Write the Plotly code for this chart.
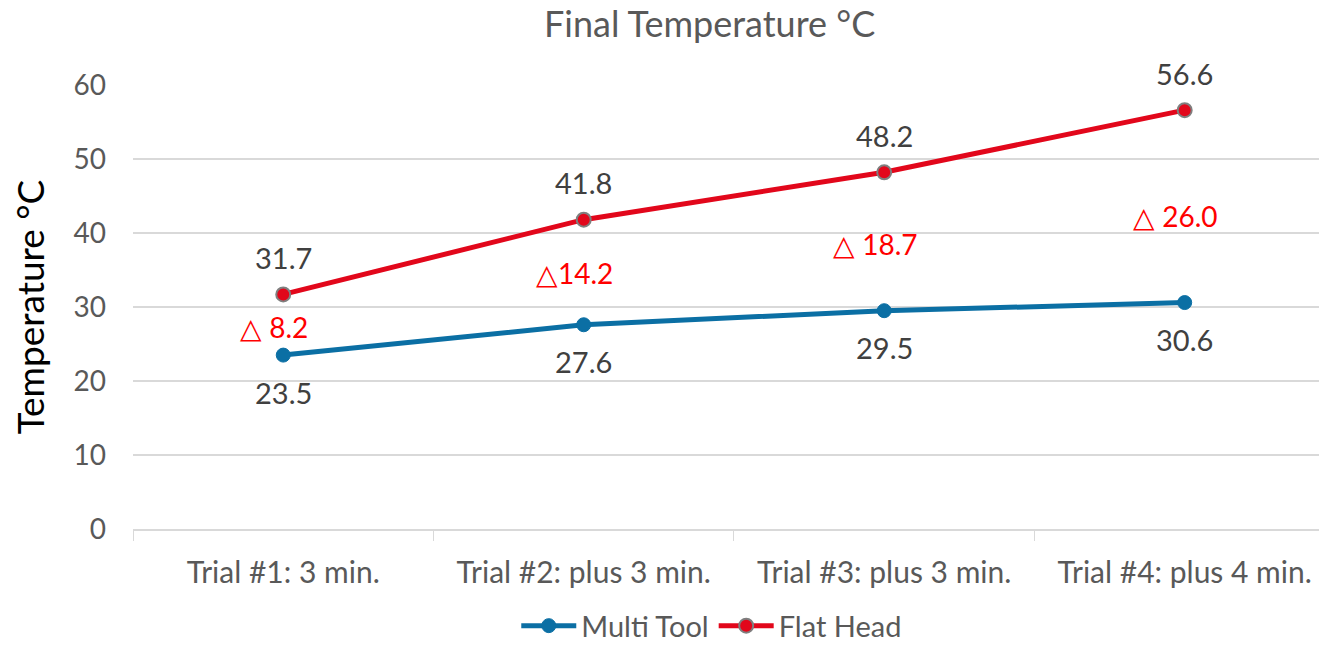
import plotly.graph_objects as go

categories = ["Trial #1: 3 min.", "Trial #2: plus 3 min.", "Trial #3: plus 3 min.", "Trial #4: plus 4 min."]
multi_tool = [23.5, 27.6, 29.5, 30.6]
flat_head = [31.7, 41.8, 48.2, 56.6]
delta_values = [8.2, 14.2, 18.7, 26.0]
delta_label_y = [27.3, 34.6, 38.5, 42.3]
y_ticks = [0, 10, 20, 30, 40, 50, 60]

FONT = "Lato"
BLUE = "#0B6FA4"
RED = "#E2071B"

fig = go.Figure()
fig.add_trace(go.Scatter(
    x=categories, y=multi_tool, name="Multi Tool", mode="lines+markers",
    line=dict(color=BLUE, width=5),
    marker=dict(color=BLUE, size=14, line=dict(color=BLUE, width=1)),
))
fig.add_trace(go.Scatter(
    x=categories, y=flat_head, name="Flat Head", mode="lines+markers",
    line=dict(color=RED, width=5),
    marker=dict(color=RED, size=14, line=dict(color="#7F7F7F", width=2)),
))

ann = []
for c, v in zip(categories, flat_head):
    ann.append(dict(x=c, y=v, text=f"{v:.1f}", showarrow=False, yshift=37,
                    font=dict(family=FONT, size=29, color="#404040")))
for c, v in zip(categories, multi_tool):
    ann.append(dict(x=c, y=v, text=f"{v:.1f}", showarrow=False, yshift=-37,
                    font=dict(family=FONT, size=29, color="#404040")))
for c, d, yy, i in zip(categories, delta_values, delta_label_y, range(4)):
    sp = "" if i == 1 else " "
    ann.append(dict(x=c, y=yy, text=f"△{sp}{d:.1f}", showarrow=False, xshift=-9,
                    font=dict(family=FONT, size=28, color="#FF0000")))

fig.update_layout(
    width=1319, height=646,
    paper_bgcolor="white", plot_bgcolor="white",
    margin=dict(l=133, r=0, t=85, b=117, autoexpand=False),
    title=dict(text="Final Temperature °C", x=0.538, xanchor="center", y=0.962, yanchor="middle",
               font=dict(family=FONT, size=36, color="#595959")),
    font=dict(family=FONT, color="#595959"),
    showlegend=True,
    legend=dict(orientation="h", x=0.488, xanchor="center", y=-0.218, yanchor="middle",
                font=dict(family=FONT, size=29, color="#595959"), itemwidth=55,
                traceorder="normal"),
    annotations=ann,
)
fig.update_xaxes(
    type="category", range=[-0.5, 3.447], showgrid=False, automargin=False,
    showline=True, linecolor="#D9D9D9", linewidth=1.5,
    ticks="outside", tickson="boundaries", ticklen=10, tickcolor="#D9D9D9",
    ticklabelstandoff=16,
    tickfont=dict(family=FONT, size=30, color="#595959"),
)
fig.update_yaxes(
    range=[0, 60], tickvals=y_ticks, showgrid=True, gridcolor="#D9D9D9", gridwidth=1.5,
    zeroline=False, showline=False, ticks="", ticklabelstandoff=26, automargin=False,
    tickfont=dict(family=FONT, size=28, color="#595959"),
    title=dict(text="Temperature °C", font=dict(family=FONT, size=37, color="#000000"), standoff=17),
)
for t in fig.data:
    t.cliponaxis = False

fig.write_html("out.html", config={"displayModeBar": False},
               post_script="document.body.style.margin='0';document.body.style.overflow='hidden';")
